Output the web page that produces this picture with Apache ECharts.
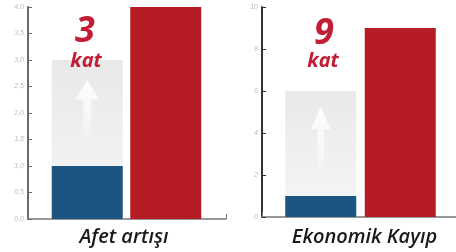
<!DOCTYPE html>
<html>
<head>
<meta charset="utf-8">
<script src="https://cdn.jsdelivr.net/npm/echarts@6/dist/echarts.min.js"></script>
<style>
  html, body { margin: 0; padding: 0; background: #fff; }
  #chart { width: 456px; height: 252px; }
</style>
</head>
<body>
<div id="chart"></div>
<script>
// iki panel: önce / sonra
const titles = ["Afet artışı", "Ekonomik Kayıp"];
const categories = ["önce", "sonra"];
const baseValues = [1, 1];      // mavi çubuk
const ghostValues = [3, 6];     // gri (hayalet) çubuk
const afterValues = [4, 9];     // kırmızı çubuk
const multiplier = ["3", "9"];
const yMax = [4, 10];
const yStep = [0.5, 2];
const arrowAt = [2.1, 3.7];     // ok işaretinin değeri

const BLUE = "#1c5482";
const RED = "#b51c24";
const TEXT_RED = "#c21d35";

const chart = echarts.init(document.getElementById("chart"));

const grids = [
  { left: 28, width: 198, top: 7, height: 212, outerBoundsMode: "none" },   // sol eksen
  { left: 48, width: 157, top: 7, height: 212, outerBoundsMode: "none" },   // sol çubuklar
  { left: 262, width: 194, top: 7, height: 210, outerBoundsMode: "none" },  // sağ eksen
  { left: 281, width: 159, top: 7, height: 210, outerBoundsMode: "none" }   // sağ çubuklar
];

const xAxis = [];
const yAxis = [];
const series = [];

for (let i = 0; i < 2; i++) {
  const axisGrid = i * 2;
  const barGrid = i * 2 + 1;
  const lineColor = i === 0 ? "#6a6a6a" : "#333";

  // eksen çizgileri için boş grid
  xAxis.push({
    type: "category", gridIndex: axisGrid, data: [""],
    axisLine: { lineStyle: { color: "#777", width: 1.5 } },
    axisTick: { show: true, inside: true, length: 5, lineStyle: { color: "#777" } },
    axisLabel: { show: false }
  });
  yAxis.push({
    type: "value", gridIndex: axisGrid, min: 0, max: yMax[i], interval: yStep[i],
    splitLine: { show: false },
    axisLine: { show: true, lineStyle: { color: lineColor, width: 2 } },
    axisTick: { show: true, inside: true, length: 4, lineStyle: { color: lineColor } },
    axisLabel: {
      color: "#bdbdbd", fontSize: 7, fontStyle: "italic", margin: 4,
      formatter: v => i === 0 ? v.toFixed(1).replace(".", ",") : String(v)
    }
  });

  // çubuklar
  xAxis.push({
    type: "category", gridIndex: barGrid, data: categories,
    axisLine: { show: false }, axisTick: { show: false }, axisLabel: { show: false },
    name: titles[i], nameLocation: "middle", nameGap: i === 0 ? 8 : 10,
    nameTextStyle: {
      fontFamily: "Open Sans", fontStyle: "italic", fontWeight: 600,
      fontSize: 20, color: "#1a1a1a",
      padding: i === 0 ? [0, 5, 0, 0] : [0, 0, 0, 8]
    }
  });
  yAxis.push({
    type: "value", gridIndex: barGrid, min: 0, max: yMax[i], show: false
  });

  series.push({
    type: "bar", xAxisIndex: barGrid, yAxisIndex: barGrid,
    barWidth: 71, barGap: "-100%", z: 1,
    data: [ghostValues[i], "-"],
    itemStyle: {
      color: new echarts.graphic.LinearGradient(0, 0, 0, 1, [
        { offset: 0, color: "#e9e9e9" },
        { offset: 1, color: "#f6f6f6" }
      ])
    },
    markPoint: {
      symbol: "path://M12,0 L24,20 L16,20 L16,58 L8,58 L8,20 L0,20 Z",
      symbolSize: i === 0 ? [24, 55] : [20, 64],
      symbolKeepAspect: false,
      label: { show: false },
      itemStyle: {
        color: new echarts.graphic.LinearGradient(0, 0, 0, 1, [
          { offset: 0, color: "rgba(255,255,255,1)" },
          { offset: 1, color: "rgba(255,255,255,0.25)" }
        ])
      },
      data: [{ coord: [categories[0], arrowAt[i]] }]
    }
  });
  series.push({
    type: "bar", xAxisIndex: barGrid, yAxisIndex: barGrid,
    barWidth: 71, z: 2,
    data: [
      { value: baseValues[i], itemStyle: { color: BLUE } },
      { value: afterValues[i], itemStyle: { color: RED } }
    ]
  });
}

const bigFont = "italic 700 36px 'Open Sans'";
const katFont = "italic 700 20px 'Open Sans'";

chart.setOption({
  animation: false,
  grid: grids,
  xAxis: xAxis,
  yAxis: yAxis,
  series: series,
  graphic: [
    { type: "text", z: 100, x: 85, y: 32, style: { text: multiplier[0], font: bigFont, fill: TEXT_RED, align: "center", verticalAlign: "middle" } },
    { type: "text", z: 100, x: 86, y: 61, style: { text: "kat", font: katFont, fill: TEXT_RED, align: "center", verticalAlign: "middle" } },
    { type: "text", z: 100, x: 324, y: 34, style: { text: multiplier[1], font: bigFont, fill: TEXT_RED, align: "center", verticalAlign: "middle" } },
    { type: "text", z: 100, x: 323, y: 61, style: { text: "kat", font: katFont, fill: TEXT_RED, align: "center", verticalAlign: "middle" } }
  ]
});
</script>
</body>
</html>
